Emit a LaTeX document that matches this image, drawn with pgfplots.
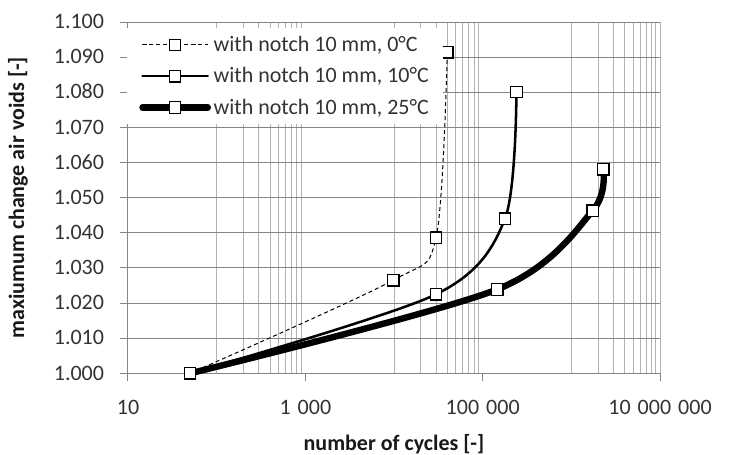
\documentclass[border=0pt]{standalone}
\usepackage{pgfplots}
\pgfplotsset{compat=1.18}
\usepackage{fontspec}
\setmainfont{Carlito}
\newcommand{\ts}{\hspace{0.32em}}
\begin{document}
\begin{tikzpicture}
\begin{axis}[
  name=ax,
  scale only axis,
  width=399pt, height=263.5pt,
  xmode=log,
  xmin=10, xmax=1e7,
  ymin=1, ymax=1.1,
  clip=false,
  axis lines*=left,
  axis line style={draw=black!48, line width=0.75pt},
  xtick={10,1000,100000,10000000},
  xticklabels={10, 1\ts000, 100\ts000, 10\ts000\ts000},
  minor xtick={100,200,300,400,500,600,700,800,900,10000,20000,30000,40000,50000,60000,70000,80000,90000,1000000,2000000,3000000,4000000,5000000,6000000,7000000,8000000,9000000,10000000},
  ytick={1.000,1.010,1.020,1.030,1.040,1.050,1.060,1.070,1.080,1.090,1.100},
  yticklabels={1.000,1.010,1.020,1.030,1.040,1.050,1.060,1.070,1.080,1.090,1.100},
  xmajorgrids=false, xminorgrids=true, ymajorgrids=true,
  major grid style={draw=black!48, line width=0.75pt},
  minor grid style={draw=black!30, line width=0.75pt},
  tick align=outside,
  major tick length=6pt,
  minor tick length=0pt,
  tick style={draw=black!48, line width=0.75pt},
  tick label style={font=\fontsize{16.5}{19.8}\selectfont, text=black!80, inner sep=0pt},
  xticklabel style={anchor=base, yshift=-24.75pt},
  yticklabel style={anchor=base east, xshift=-11.8pt, yshift=-5pt},
  xlabel={\textbf{number of cycles [-]}},
  ylabel={\textbf{maxiumum change air voids [-]}},
  label style={font=\fontsize{16.5}{19.8}\selectfont, text=black!90, inner sep=0pt},
  xlabel style={at={(axis description cs:0.5,0)}, anchor=base, yshift=-57.75pt},
  ylabel style={at={(axis description cs:0,0.5)}, anchor=center, yshift=82.5pt},
  legend image code/.code={\draw[mark repeat=2,mark phase=2,#1] plot coordinates {(0pt,0pt) (24.5pt,0pt) (49pt,0pt)};},
  legend style={at={(axis description cs:0,1)}, anchor=north west, xshift=-0.75pt, yshift=-4.5pt,
    draw=none, fill=white, inner xsep=9pt, inner ysep=4pt, row sep=6.5pt,
    font=\fontsize{16.5}{19.8}\selectfont, text=black!80},
  legend cell align=left,
]
\addplot[black, line width=0.75pt, dash pattern=on 3pt off 2.25pt, smooth,
  mark=square*, mark size=4.3pt, mark options={solid, fill=white, draw=black, line width=0.9pt}]
  coordinates {(50,1.0000) (9800,1.0265) (29800,1.0386) (39900,1.0914)};
\addlegendentry{with notch 10 mm, 0°C}
\addplot[black, line width=1.9pt, line cap=round, smooth,
  mark=square*, mark size=4.3pt, mark options={solid, fill=white, draw=black, line width=0.9pt}]
  coordinates {(50,1.0000) (29800,1.0225) (178500,1.0440) (240400,1.0801)};
\addlegendentry{with notch 10 mm, 10°C}
\addplot[black, line width=4.8pt, line cap=round, smooth,
  mark=square*, mark size=4.3pt, mark options={solid, fill=white, draw=black, line width=0.9pt}]
  coordinates {(50,1.0000) (146000,1.0239) (1740000,1.0463) (2290000,1.0581)};
\addlegendentry{with notch 10 mm, 25°C}
\end{axis}
\pgfresetboundingbox
\path[use as bounding box] ([xshift=-96pt,yshift=-60.5pt]ax.south west) rectangle ([xshift=51.75pt,yshift=16.5pt]ax.north east);
\end{tikzpicture}
\end{document}
